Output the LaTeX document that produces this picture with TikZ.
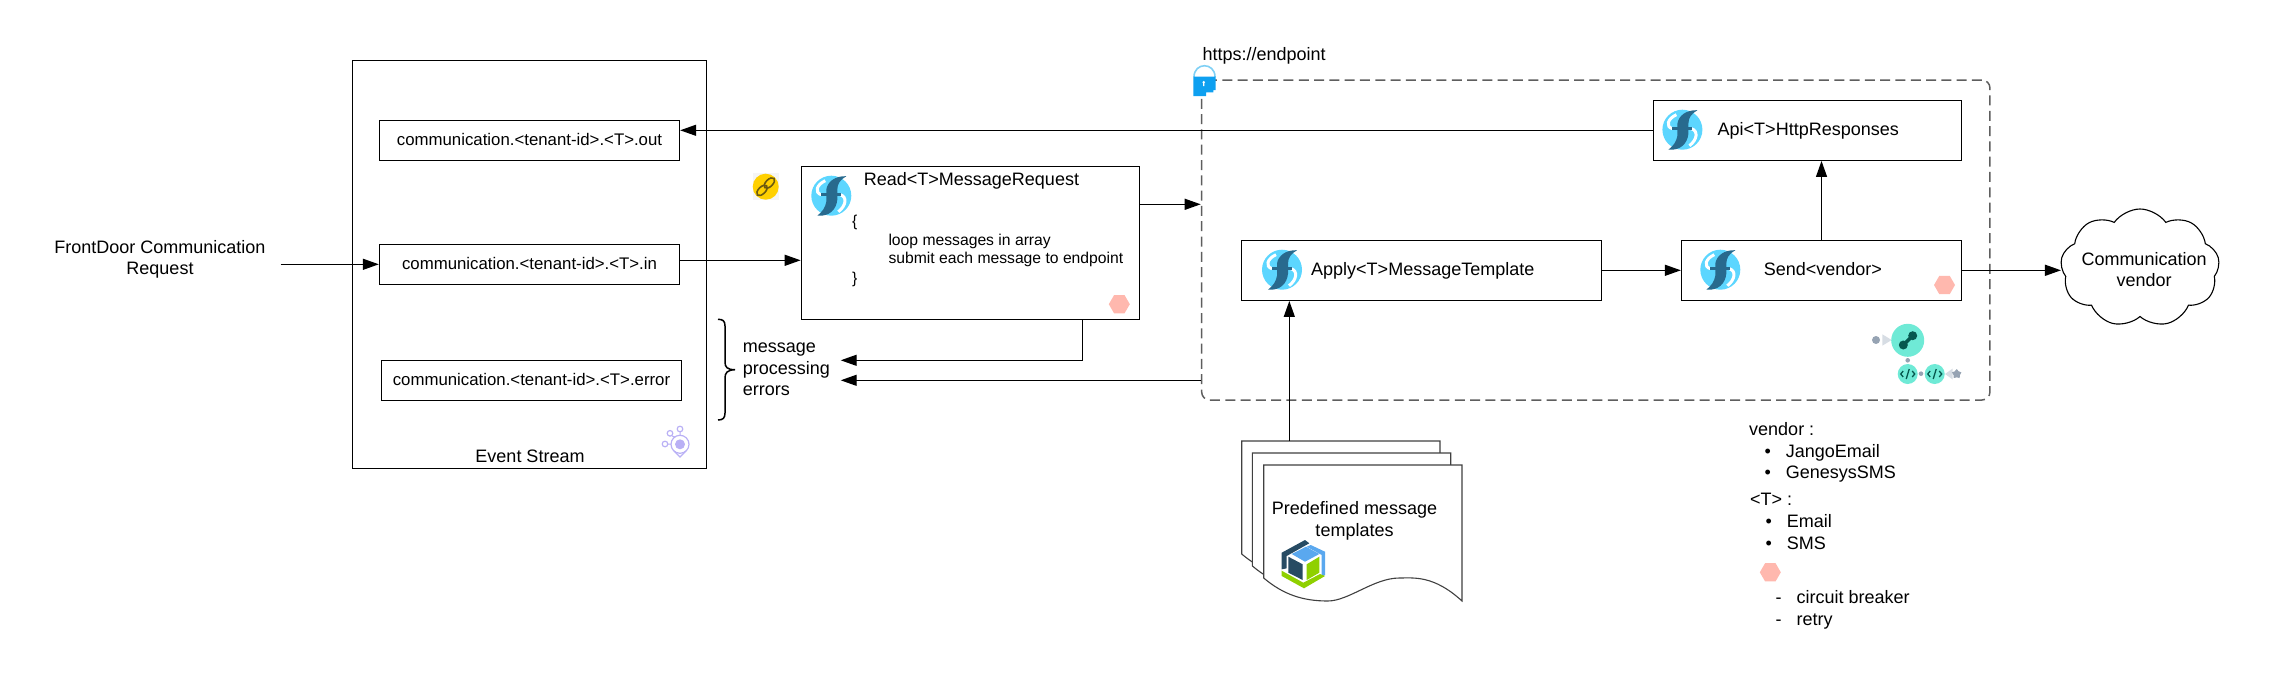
\documentclass[tikz,border=0pt]{standalone}
\usepackage{fontspec}
\setmainfont{Liberation Sans}
\usetikzlibrary{arrows.meta,shapes.geometric,shapes.symbols}

\definecolor{funclight}{HTML}{5CD6FF}
\definecolor{funcdark}{HTML}{286A8E}
\definecolor{hexpink}{HTML}{FFB8AE}
\definecolor{dashgrey}{HTML}{5E5E5E}
\definecolor{lockblue}{HTML}{0EA0F0}
\definecolor{locklight}{HTML}{7FD0F5}
\definecolor{teal}{HTML}{6FEAD6}
\definecolor{tealdark}{HTML}{06584E}
\definecolor{stepgrey}{HTML}{96A3B3}
\definecolor{steplight}{HTML}{D7DDE4}
\definecolor{streamviolet}{HTML}{B9B0F5}
\definecolor{cubedark}{HTML}{274B63}
\definecolor{cubeblue}{HTML}{5AA8EF}
\definecolor{cubegreen}{HTML}{8FD000}
\definecolor{linkyellow}{HTML}{FFD000}
\definecolor{linkolive}{HTML}{6B5A10}

\tikzset{
	box/.style={shape=rectangle,draw=black,line width=1.3pt,inner sep=0pt},
	topic/.style={box,minimum width=300pt,minimum height=40pt,font=\fontsize{16.8}{20}\selectfont,text height=13pt,text depth=3pt},
	label/.style={inner sep=0pt,font=\fontsize{18}{21.6}\selectfont},
	small/.style={inner sep=0pt,anchor=west,font=\fontsize{15.7}{19}\selectfont,text height=16pt,text depth=3.5pt},
	line/.style={label,anchor=west,text height=16pt,text depth=3pt},
	flow/.style={line width=1.3pt,-{Triangle[length=16pt,width=11pt]}},
	hexa/.style={shape=regular polygon,regular polygon sides=6,fill=hexpink,minimum size=21pt,inner sep=0pt},
	sheet/.pic={
		\draw[fill=white,draw=black!75,line width=1.1pt] (0,0) -- (198.3,0) -- (198.3,136)
			.. controls (170,110) and (150,113) .. (135.7,113)
			.. controls (110,113) and (85,136) .. (64,136)
			.. controls (40,136) and (20,130) .. (0,113) -- cycle;
	},
	funcicon/.pic={
		\fill[funclight] (0,0) circle[radius=20pt];
		\draw[white,line width=3pt] (-6,-15) .. controls (-15,-11) and (-17,-3) .. (-10,-1);
		\draw[white,line width=3pt] (9,-1) .. controls (16,1) and (15,10) .. (7,16);
		\fill[funcdark] (15,-19.5) .. controls (4,-20) and (-4,-14) .. (-5,-6) -- (-5,6)
			.. controls (-6,12) and (-9,16) .. (-14,20) .. controls (-2,21) and (5,14) .. (6,4) -- (6,-6)
			.. controls (6,-12) and (9,-16) .. (15,-19.5) -- cycle;
		\draw[funcdark,line width=3.5pt] (-10,-1) -- (10,-1);
	},
	codebadge/.pic={
		\fill[teal] (0,0) circle[radius=10pt];
		\draw[tealdark,line width=1.3pt] (-4.5,-3) -- (-7,0) -- (-4.5,3) (4.5,-3) -- (7,0) -- (4.5,3) (-1.5,5) -- (1.5,-5);
	},
	cubeicon/.pic={
		\fill[cubedark] (-23.3,-12.3) -- (0,-25) -- (4.3,-21.7) -- (-18.3,-9) -- (-18.3,3.3) -- (-23.3,4.3) -- cycle;
		\fill[cubeblue] (5.7,-20) -- (20,-13.3) -- (20,10) -- (16.7,11.7) -- (16.7,-10) -- (1.7,-18.3) -- cycle;
		\fill[cubeblue] (1,-18.3) -- (14.3,-11) -- (0,-3.3) -- (-13.3,-11) -- cycle;
		\fill[cubedark] (-16.7,-8.3) -- (-2.3,-0.7) -- (-2.3,15) -- (-16.7,7.7) -- cycle;
		\fill[cubegreen] (1.7,-0.7) -- (14.3,-8.3) -- (14.3,7.7) -- (1.7,15) -- cycle;
		\fill[cubegreen] (-23.3,5.7) -- (-1.7,17.7) -- (15,9) -- (20,11) -- (-1,23.3) -- (-23.3,11) -- cycle;
	},
}

\begin{document}
\begin{tikzpicture}[x=1pt,y=-1pt]

	\useasboundingbox (0,0) rectangle (2269,680);

	\node[label,align=center] (request) at (160,259.5) {FrontDoor Communication\\Request};
	\coordinate (requestend) at (280.7,264.3);

	\node[box,minimum width=354.3pt,minimum height=408pt] (stream) at (529.5,264.3) {};
	\node[topic] (out) at (529.5,140.3) {communication.<tenant-id>.<T>.out};
	\node[topic] (in) at (529.5,264.3) {communication.<tenant-id>.<T>.in};
	\node[topic] (error) at (531.5,380.3) {communication.<tenant-id>.<T>.error};
	\node[label] (streamtitle) at (530,456.7) {Event Stream};

	\draw[streamviolet,line width=1.2pt] (680,444.3) circle[radius=9pt];
	\fill[streamviolet] (680,444.3) circle[radius=5pt];
	\draw[streamviolet,line width=1.2pt] (674,451) -- (680,457) -- (686,451);
	\draw[streamviolet,line width=1.2pt] (670,433.3) circle[radius=2.8pt] (680,429) circle[radius=2.8pt] (665,444) circle[radius=2.8pt];
	\draw[streamviolet,line width=1pt] (672,436) -- (675,437) (680,432) -- (680,435) (668,444) -- (671,444);

	\fill[black!4] (752.7,173.3) rectangle (778.7,200);
	\fill[linkyellow] (765.7,186.7) circle[radius=13pt];
	\draw[linkolive,line width=1.6pt,rotate around={45:(762,190.4)}] (762,190.4) ellipse[x radius=6.5pt,y radius=3.5pt];
	\draw[linkolive,line width=1.6pt,rotate around={45:(769.4,183)}] (769.4,183) ellipse[x radius=6.5pt,y radius=3.5pt];

	\node[box,minimum width=338pt,minimum height=153pt] (read) at (970.3,242.8) {};
	\node[line] (readtitle) at (863.7,179.3) {Read<T>MessageRequest};
	\node[small] (readopen) at (852,220.7) {\{};
	\node[small] (readloop) at (888.3,239) {loop messages in array};
	\node[small] (readsubmit) at (888.3,257.7) {submit each message to endpoint};
	\node[small] (readclose) at (852,277.3) {\}};
	\node[hexa] (readhex) at (1119.3,304.2) {};
	\pic at (831.3,195.7) {funcicon};

	\draw[line width=1.5pt] (718,319.3) .. controls (723,319.3) and (725,321) .. (725,326) -- (725,362)
		.. controls (725,367) and (727,369.7) .. (735,369.7) .. controls (727,370) and (725,373) .. (725,378)
		-- (725,413) .. controls (725,418) and (723,420) .. (718,420);
	\node[line] (errmessage) at (742.7,346.3) {message};
	\node[line] (errprocessing) at (742.7,367.7) {processing};
	\node[line] (errerrors) at (742.7,389.3) {errors};
	\coordinate (errtop) at (840.7,360.3);
	\coordinate (errlow) at (840.7,380.3);
	\coordinate (readdrop) at (1082.3,319.3);

	\node[shape=rectangle,draw=dashgrey,line width=1.5pt,dash pattern=on 10pt off 5.3pt,rounded corners=8pt,minimum width=788.3pt,minimum height=320pt,inner sep=0pt] (endpoint) at (1595.8,240) {};
	\node[line] (endpointurl) at (1202.3,54) {https://endpoint};
	\draw[locklight,line width=1.6pt] (1194,77) .. controls (1194,62) and (1215,62) .. (1215,77);
	\fill[lockblue] (1193.3,76.7) -- (1215.7,76.7) -- (1215.7,90) -- (1213.3,90) -- (1213.3,92.3) -- (1206,92.3) -- (1206,96) -- (1193.3,96) -- cycle;
	\fill[white] (1203.7,82.3) circle[radius=1.4pt] (1203.1,82.3) rectangle (1204.3,86);

	\node[box,minimum width=308pt,minimum height=60pt] (api) at (1807.5,130.3) {};
	\node[line] (apititle) at (1717.5,129.3) {Api<T>HttpResponses};
	\pic at (1682.4,129.7) {funcicon};

	\node[box,minimum width=360.4pt,minimum height=60pt] (apply) at (1421.5,270.3) {};
	\node[line] (applytitle) at (1311,269) {Apply<T>MessageTemplate};
	\pic at (1282,269.7) {funcicon};

	\node[box,minimum width=280pt,minimum height=60pt] (send) at (1821.5,270.3) {};
	\node[line] (sendtitle) at (1763.7,269) {Send<vendor>};
	\node[hexa] (sendhex) at (1944.5,285) {};
	\pic at (1720.3,269.7) {funcicon};

	\node[shape=cloud,draw=black,line width=1.1pt,cloud puffs=9,cloud puff arc=110,aspect=1.3,minimum width=159pt,minimum height=118pt,inner sep=0pt] (vendor) at (2140,268) {};
	\node[label,align=center] (vendortext) at (2144,269.6) {Communication\\vendor};

	\fill[stepgrey] (1876,340) circle[radius=4pt];
	\fill[steplight] (1882.3,334.3) -- (1891.7,340) -- (1882.3,345.7) -- cycle;
	\fill[teal] (1907.7,340.3) circle[radius=16.5pt];
	\fill[tealdark] (1903.3,345) circle[radius=4.5pt] (1912.7,335.7) circle[radius=4.5pt];
	\draw[tealdark,line width=3.5pt] (1903.3,345) -- (1912.7,335.7);
	\fill[stepgrey] (1907.7,360.3) circle[radius=2.3pt] (1921,373.7) circle[radius=2.3pt];
	\pic at (1907.7,374) {codebadge};
	\pic at (1934.7,374) {codebadge};
	\fill[steplight] (1945,374) -- (1952.7,368.5) -- (1952.7,379.5) -- cycle;
	\node[shape=star,star points=5,fill=stepgrey,minimum size=10pt,inner sep=0pt] (stepstar) at (1956.7,374) {};

	\pic at (1241.7,441) {sheet};
	\pic at (1252.4,453) {sheet};
	\pic at (1263.7,465) {sheet};
	\coordinate (sheettop) at (1289.3,441);
	\node[label,align=center] (sheettext) at (1354.5,520.7) {Predefined message\\templates};
	\pic at (1305,565) {cubeicon};

	\node[line] (vendorhead) at (1749,429) {vendor :};
	\node[line] (vendordot1) at (1764.5,450.7) {•};
	\node[line] (vendorjango) at (1785.6,450.7) {JangoEmail};
	\node[line] (vendordot2) at (1764.5,472) {•};
	\node[line] (vendorgenesys) at (1785.6,472) {GenesysSMS};
	\node[line] (typehead) at (1750,499.3) {<T> :};
	\node[line] (typedot1) at (1765.5,521.3) {•};
	\node[line] (typeemail) at (1786.6,521.3) {Email};
	\node[line] (typedot2) at (1765.5,542.7) {•};
	\node[line] (typesms) at (1786.6,542.7) {SMS};
	\node[hexa] (legendhex) at (1770.3,572.3) {};
	\node[line] (legenddash1) at (1775.3,597) {-};
	\node[line] (legendbreaker) at (1796.3,597) {circuit breaker};
	\node[line] (legenddash2) at (1775.3,619) {-};
	\node[line] (legendretry) at (1796.3,619) {retry};

	\coordinate (ingate) at (681,260.3);
	\coordinate (outgate) at (1653.5,130.3);
	\coordinate (readgate) at (1200.7,204.3);

	\path[flow] (requestend) edge (in.west);
	\path[flow] (outgate) edge (out.east |- outgate);
	\path[flow] (in.east |- ingate) edge (read.west |- ingate);
	\path[flow] (read.east |- readgate) edge (readgate);
	\draw[flow] (read.south -| readdrop) |- (errtop);
	\path[flow] (endpoint.west |- errlow) edge (errlow);
	\path[flow] (sheettop) edge (apply.south -| sheettop);
	\path[flow] (apply.east) edge (send.west);
	\path[flow] (send.north) edge (api.south -| send.north);
	\path[flow] (send.east) edge (send.east -| vendor.west);

\end{tikzpicture}
\end{document}
